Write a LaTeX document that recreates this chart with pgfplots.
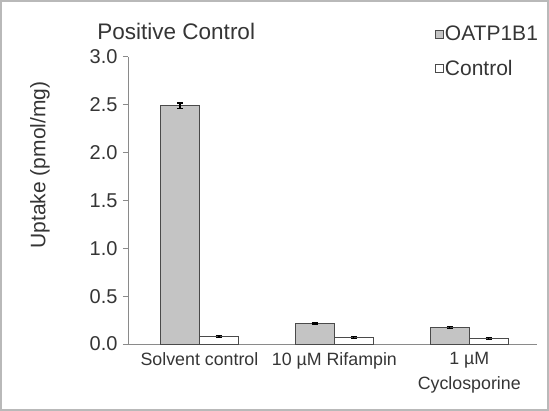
\documentclass[border=0pt]{standalone}
\usepackage{fontspec}
\setmainfont{Liberation Sans}
\usepackage{pgfplots}
\pgfplotsset{compat=1.18}
\definecolor{txt}{HTML}{353535}
\definecolor{axisgray}{HTML}{8A8A8A}
\definecolor{barfill}{HTML}{C4C4C4}
\definecolor{baredge}{HTML}{4A4A4A}
\begin{document}
\begin{tikzpicture}
\useasboundingbox (0,0) rectangle (549bp,411bp);
\draw[gray!55, line width=1.2bp] (1bp,1bp) rectangle (548bp,410bp);
\begin{axis}[
  at={(128bp,67bp)}, anchor=south west,
  scale only axis, width=409bp, height=287bp,
  ybar=0pt, bar width=0.289,
  xmin=-0.53, xmax=2.502, ymin=0, ymax=3,
  enlargelimits=false,
  axis x line=bottom, axis y line=left,
  axis line style={-, axisgray, line width=1bp},
  xtick={0,1,2},
  xticklabels={Solvent control, 10 µM Rifampin, 1 µM\\Cyclosporine},
  xtick style={draw=none},
  ytick={0,0.5,1,1.5,2,2.5,3},
  ytick style={axisgray, line width=1bp},
  tick align=outside, major tick length=5bp,
  yticklabel style={/pgf/number format/.cd, fixed, fixed zerofill, precision=1, /tikz/.cd, xshift=-2bp},
  /pgf/number format/assume math mode=true,
  tick label style={text=txt},
  yticklabel style={font=\fontsize{20bp}{24bp}\selectfont},
  xticklabel style={font=\fontsize{17.8bp}{25bp}\selectfont, align=center, anchor=north},
  ylabel={Uptake (pmol/mg)},
  every axis y label/.style={at={(axis description cs:-0.215,0.624)}, rotate=90, anchor=center, font=\fontsize{21bp}{24bp}\selectfont, text=txt},
  title={Positive Control},
  every axis title/.style={at={(axis description cs:0.118,1.09)}, anchor=center, font=\fontsize{22.5bp}{26bp}\selectfont, text=txt},
  legend style={at={(axis description cs:0.749,1.113)}, anchor=north west, draw=none, fill=none,
    font=\fontsize{21bp}{25bp}\selectfont, text=txt, row sep=15bp, inner sep=0pt,
    nodes={inner sep=1.5bp}},
  legend cell align=left,
  legend image code/.code={\draw[#1, line width=0.9bp] (0bp,-4bp) rectangle (8bp,4bp);},
  clip=false,
]
\addplot[fill=barfill, draw=baredge, line width=1bp,
  error bars/.cd, y dir=both, y explicit,
  error bar style={black, line width=1.2bp},
  error mark options={rotate=90, black, mark size=3bp, line width=1.2bp}]
  coordinates {(0,2.49) +- (0,0.03) (1,0.21) +- (0,0.01) (2,0.17) +- (0,0.01)};
\addplot[fill=white, draw=baredge, line width=1bp,
  error bars/.cd, y dir=both, y explicit,
  error bar style={black, line width=1.2bp},
  error mark options={rotate=90, black, mark size=3bp, line width=1.2bp}]
  coordinates {(0,0.08) +- (0,0.01) (1,0.07) +- (0,0.01) (2,0.06) +- (0,0.01)};
\legend{OATP1B1, Control}
\end{axis}
\end{tikzpicture}
\end{document}
